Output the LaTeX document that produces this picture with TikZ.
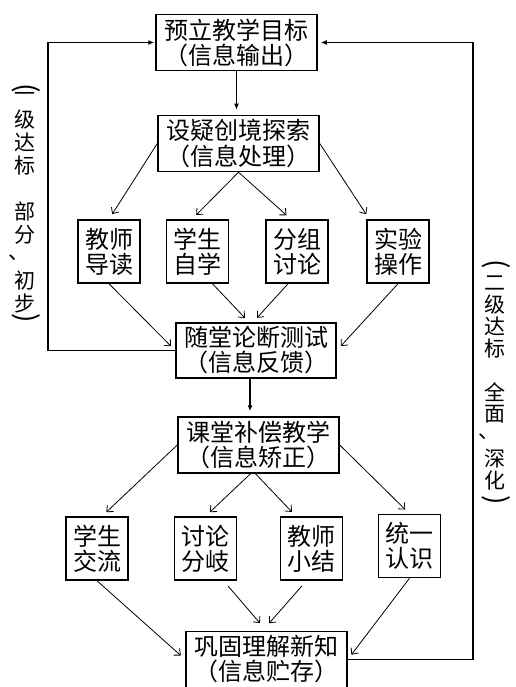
\documentclass[tikz,border=0pt]{standalone}
\usepackage{fontspec}
\newfontfamily\cjk{Noto Sans CJK SC}
\usetikzlibrary{arrows.meta,calc}

\begin{document}
\begin{tikzpicture}[x=1pt,y=-1pt,
  mainbox/.style={draw,line width=1.5pt,inner sep=0pt,minimum width=161pt,
    minimum height=56pt,align=center,font=\cjk\fontsize{24}{25}\selectfont},
  subbox/.style={draw,line width=1.5pt,inner sep=0pt,minimum width=62pt,
    minimum height=63pt,align=center,font=\cjk\fontsize{24}{25}\selectfont},
  sidelabel/.style={inner sep=0pt,font=\cjk\fontsize{21}{23}\selectfont},
  sideparen/.style={inner sep=0pt,rotate=-90,font=\cjk\fontsize{28}{28}\selectfont},
  flowarrow/.style={-{Straight Barb[length=5pt,width=9pt]},line width=.8pt,
    shorten >=6pt},
  mainarrow/.style={-{Latex[length=6pt,width=5pt]},line width=1.2pt,
    shorten >=5pt},
  feedarrow/.style={-{Latex[length=6pt,width=5pt]},line width=1.5pt}]
\useasboundingbox (0,0) rectangle (515,687);
% main chain
\node[mainbox] (b1) at (236.5,42.5) {预立教学目标\\（信息输出）};
\node[mainbox] (b2) at (238.5,143.5) {设疑创境探索\\（信息处理）};
\node[mainbox,minimum width=160pt,minimum height=55pt] (b3) at (256,350.5) {随堂论断测试\\（信息反馈）};
\node[mainbox] (b4) at (258.5,445) {课堂补偿教学\\（信息矫正）};
\node[mainbox] (b5) at (266.5,659.5) {巩固理解新知\\（信息贮存）};
% first row
\node[subbox] (s1) at (109,251.5) {教师\\导读};
\node[subbox] (s2) at (197.5,251.5) {学生\\自学};
\node[subbox] (s3) at (297,251.5) {分组\\讨论};
\node[subbox] (s4) at (398,251.5) {实验\\操作};
% second row
\node[subbox] (t1) at (97,548.5) {学生\\交流};
\node[subbox] (t2) at (205.5,548.5) {讨论\\分岐};
\node[subbox] (t3) at (311.5,548.5) {教师\\小结};
\node[subbox] (t4) at (409.5,546) {统一\\认识};
% side labels, written top to bottom
\node[sideparen] (lo) at (26,88) {(};
\foreach \c/\k/\dx [count=\i] in {一/0/0,级/1/0,达/2/0,标/3/0,部/5/0,分/6/0,、/7/-6,初/8/0,步/9/0}
  \node[sidelabel] (l\i) at (25+\dx,97+22.9*\k) {\c};
\node[sideparen] (lc) at (26,318) {)};
\node[sideparen] (ro) at (496,264) {(};
\foreach \c/\k/\dx [count=\i] in {二/0/0,级/1/0,达/2/0,标/3/0,全/5/0,面/6/0,、/7/-6,深/8/0,化/9/0}
  \node[sidelabel] (r\i) at (495+\dx,283+21.9*\k) {\c};
\node[sideparen] (rc) at (496,500) {)};
\coordinate (lx) at (48,0);
\coordinate (rx) at (473,0);
\coordinate (m3) at ([xshift=-6pt]b3.south);
% arrows
\draw[mainarrow] (b1.south) -- (b1.south |- b2.north);
\draw[flowarrow] (b2.west) -- (s1.north);
\draw[flowarrow] (b2.south) -- ($(s2.north)+(-5.5,0)$);
\draw[flowarrow] (b2.south) -- ($(s3.north)+(-6,0)$);
\draw[flowarrow] (b2.east) -- ($(s4.north)+(-28.5,0)$);
\draw[flowarrow] (s1.south) -- (b3.west);
\draw[flowarrow] ($(s2.south)+(15,0)$) -- ($(b3.north)+(-7,0)$);
\draw[flowarrow] ($(s3.south)+(-9,0)$) -- ($(b3.north)+(-3,0)$);
\draw[flowarrow] (s4.south) -- (b3.east);
\draw[mainarrow] (m3) -- (m3 |- b4.north);
\draw[flowarrow] (b4.west) -- ($(t1.north)+(5,0)$);
\draw[flowarrow] ($(b4.south)+(-8,0)$) -- (t2.north);
\draw[flowarrow] ($(b4.south)+(-3,0)$) -- ($(t3.north)+(-15.5,0)$);
\draw[flowarrow] (b4.east) -- (t4.north);
\draw[flowarrow] (t1.south) -- (b5.west);
\draw[flowarrow,shorten <=7pt,shorten >=10pt] ($(t2.south)+(18,0)$) -- (b5.north);
\draw[flowarrow,shorten <=7pt,shorten >=10pt] ($(t3.south)+(-5,0)$) -- ($(b5.north)+(-4,0)$);
\draw[flowarrow] (t4.south) -- (b5.east);
% feedback
\draw[feedarrow,shorten >=1pt] (b3.west) -| (lx |- b1.west) -- (b1.west);
\draw[feedarrow,shorten >=3pt] (b5.east) -| (rx |- b1.east) -- (b1.east);
\end{tikzpicture}
\end{document}
